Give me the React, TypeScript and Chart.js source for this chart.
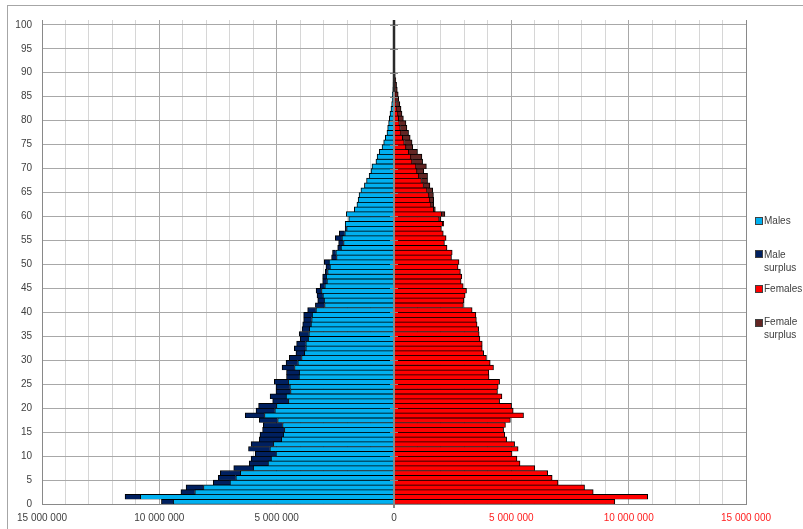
import React, { useEffect, useRef } from 'react';
import { Chart, registerables } from 'chart.js';

Chart.register(...registerables);

// Population by single year of age (millions), ages 0..100
const maleTotals = [
  9.91, 11.46, 9.08, 8.86, 7.7, 7.49, 7.4, 6.83, 6.17, 6.09,
  5.91, 6.2, 6.09, 5.74, 5.71, 5.6, 5.57, 5.74, 6.34, 5.88,
  5.77, 5.17, 5.28, 5.03, 5.03, 5.1, 4.58, 4.58, 4.77, 4.6,
  4.46, 4.18, 4.25, 4.15, 4.0, 4.04, 3.92, 3.89, 3.85, 3.85,
  3.68, 3.35, 3.25, 3.28, 3.32, 3.15, 3.04, 3.04, 2.93, 2.9,
  2.97, 2.66, 2.62, 2.4, 2.36, 2.5, 2.33, 2.08, 2.08, 1.93,
  2.03, 1.69, 1.58, 1.53, 1.49, 1.41, 1.26, 1.17, 1.06, 0.98,
  0.94, 0.77, 0.72, 0.63, 0.51, 0.44, 0.37, 0.3, 0.27, 0.23,
  0.2, 0.17, 0.13, 0.1, 0.08, 0.07, 0.05, 0.04, 0.03, 0.02,
  0.015, 0.012, 0.01, 0.008, 0.006, 0.005, 0.004, 0.003, 0.002, 0.002, 0.001,
];

const femaleTotals = [
  9.41, 10.81, 8.49, 8.12, 6.99, 6.74, 6.55, 6.0, 5.37, 5.24,
  5.03, 5.29, 5.14, 4.8, 4.72, 4.67, 4.75, 4.96, 5.52, 5.08,
  5.01, 4.5, 4.6, 4.41, 4.44, 4.5, 4.05, 4.04, 4.24, 4.1,
  3.94, 3.82, 3.76, 3.76, 3.66, 3.63, 3.61, 3.54, 3.51, 3.49,
  3.33, 2.96, 2.98, 3.03, 3.09, 2.95, 2.86, 2.89, 2.83, 2.73,
  2.77, 2.45, 2.48, 2.26, 2.15, 2.22, 2.1, 2.02, 2.12, 2.0,
  2.17, 1.76, 1.69, 1.69, 1.68, 1.65, 1.53, 1.43, 1.43, 1.27,
  1.38, 1.22, 1.19, 1.0, 0.8, 0.77, 0.69, 0.62, 0.55, 0.51,
  0.4, 0.34, 0.3, 0.25, 0.2, 0.18, 0.14, 0.11, 0.08, 0.05,
  0.035, 0.028, 0.022, 0.017, 0.013, 0.01, 0.008, 0.006, 0.004, 0.003, 0.002,
];

const ageTickLabels = [0, 5, 10, 15, 20, 25, 30, 35, 40, 45, 50, 55, 60, 65, 70, 75, 80, 85, 90, 95, 100];

const UNIT = 1000000;
const seriesNames = ['Males', 'Male surplus', 'Females', 'Female surplus'];
const seriesColors = ['#00B0F0', '#002060', '#FF0000', '#632523'];
const valueTickStep = 1000000;
const valueLabelStep = 5000000;

const fmt = (v: number) =>
  Math.round(Math.abs(v)).toString().replace(/\B(?=(\d{3})+(?!\d))/g, ' ');

const zeroAxisPlugin = {
  id: 'zeroAxis',
  afterDatasetsDraw(chart: any) {
    const { ctx, chartArea, scales } = chart;
    const x = scales.x;
    const y = scales.y;
    const px = Math.round(x.getPixelForValue(0));
    ctx.save();
    ctx.strokeStyle = '#868686';
    ctx.lineWidth = 2;
    ctx.beginPath();
    ctx.moveTo(px, chartArea.top);
    ctx.lineTo(px, chartArea.bottom + 4);
    ctx.stroke();
    // thin bars of the oldest ages merge into a dark line along the axis
    const darkEnd = y.getPixelForValue(86);
    ctx.strokeStyle = '#2a2a2a';
    ctx.lineWidth = 2.5;
    ctx.beginPath();
    ctx.moveTo(px, chartArea.top);
    ctx.lineTo(px, darkEnd);
    ctx.stroke();
    ctx.strokeStyle = '#868686';
    ctx.lineWidth = 1;
    ageTickLabels.forEach((v) => {
      const py = Math.round(y.getPixelForValue(v)) + 0.5;
      ctx.beginPath();
      ctx.moveTo(px - 4, py);
      ctx.lineTo(px + 4, py);
      ctx.stroke();
    });
    ctx.restore();
  },
};

export default function App() {
  const canvasRef = useRef<HTMLCanvasElement | null>(null);

  useEffect(() => {
    const canvas = canvasRef.current;
    if (!canvas) return;

    const maleCore = maleTotals.map((m, i) => ({ x: -Math.min(m, femaleTotals[i]) * UNIT, y: i + 0.5 }));
    const maleSurplus = maleTotals.map((m, i) => ({ x: -Math.max(0, m - femaleTotals[i]) * UNIT, y: i + 0.5 }));
    const femaleCore = femaleTotals.map((f, i) => ({ x: Math.min(f, maleTotals[i]) * UNIT, y: i + 0.5 }));
    const femaleSurplus = femaleTotals.map((f, i) => ({ x: Math.max(0, f - maleTotals[i]) * UNIT, y: i + 0.5 }));

    const mk = (label: string, data: any[], color: string) => ({
      label,
      data,
      backgroundColor: color,
      borderColor: '#000000',
      borderWidth: { top: 1, bottom: 0.5, left: 1, right: 1 },
      borderSkipped: 'start',
      barPercentage: 1,
      categoryPercentage: 1,
      stack: 's',
    });

    Chart.defaults.font.family = '"Liberation Sans", Arial, sans-serif';
    Chart.defaults.font.size = 10;

    const chart = new Chart(canvas, {
      type: 'bar',
      data: {
        datasets: [
          mk(seriesNames[0], maleCore, seriesColors[0]),
          mk(seriesNames[1], maleSurplus, seriesColors[1]),
          mk(seriesNames[2], femaleCore, seriesColors[2]),
          mk(seriesNames[3], femaleSurplus, seriesColors[3]),
        ] as any,
      },
      options: {
        indexAxis: 'y',
        animation: false,
        responsive: false,
        devicePixelRatio: 1,
        layout: { padding: { top: 20, right: 57, bottom: 0, left: 0 } },
        plugins: {
          legend: { display: false },
          tooltip: { enabled: false },
          title: { display: false },
        },
        scales: {
          x: {
            type: 'linear',
            stacked: true,
            min: -15000000,
            max: 15000000,
            offset: false,
            afterFit: (s: any) => {
              s.height = 25;
            },
            ticks: {
              stepSize: valueTickStep,
              autoSkip: false,
              maxRotation: 0,
              padding: 8,
              font: { size: 10 },
              color: (c: any) => (c.tick && c.tick.value > 0 ? '#FF2020' : '#404040'),
              callback: (v: any) => {
                const n = Math.round(Number(v) / valueTickStep);
                return n % (valueLabelStep / valueTickStep) === 0 ? fmt(Number(v)) : '';
              },
            },
            grid: {
              drawTicks: false,
              offset: false,
              lineWidth: 1,
              color: (c: any) => {
                const v = c.tick ? c.tick.value : 0;
                const n = Math.round(v / valueTickStep);
                if (Math.abs(n) === 15) return '#898989';
                if (n % 5 === 0) return '#a8a8a8';
                return '#d6d6d6';
              },
            },
            border: { display: true, color: '#898989', width: 1 },
          },
          y: {
            type: 'linear',
            stacked: true,
            min: 0,
            max: 101,
            offset: false,
            afterFit: (s: any) => {
              s.width = 42;
            },
            afterBuildTicks: (s: any) => {
              s.ticks = ageTickLabels.map((v) => ({ value: v }));
            },
            ticks: {
              autoSkip: false,
              padding: 10,
              color: '#404040',
              font: { size: 10 },
              callback: (v: any) => String(v),
            },
            grid: {
              drawTicks: false,
              offset: false,
              color: '#a8a8a8',
              lineWidth: 1,
            },
            border: { display: true, color: '#898989', width: 1 },
          },
        },
      } as any,
      plugins: [zeroAxisPlugin],
    });

    return () => chart.destroy();
  }, []);

  const legendText: React.CSSProperties = {
    position: 'absolute',
    left: 764,
    font: '10px "Liberation Sans", Arial, sans-serif',
    color: '#404040',
    lineHeight: '13px',
    whiteSpace: 'nowrap',
  };
  const swatch = (top: number, color: string): React.CSSProperties => ({
    position: 'absolute',
    left: 755,
    top,
    width: 6,
    height: 6,
    background: color,
    border: '1px solid #404040',
  });

  return (
    <div>
      <div
        style={{
          position: 'absolute',
          left: 7,
          top: 5,
          width: 796,
          height: 524,
          boxSizing: 'border-box',
          borderLeft: '1px solid #a6a6a6',
          borderTop: '1px solid #a6a6a6',
        }}
      />
      <canvas
        ref={canvasRef}
        width={803}
        height={529}
        style={{ position: 'absolute', left: 0, top: 0, width: 803, height: 529 }}
      />
      <div style={swatch(217, seriesColors[0])} />
      <div style={{ ...legendText, top: 214 }}>{seriesNames[0]}</div>
      <div style={swatch(250, seriesColors[1])} />
      <div style={{ ...legendText, top: 248 }}>Male<br />surplus</div>
      <div style={swatch(285, seriesColors[2])} />
      <div style={{ ...legendText, top: 282 }}>{seriesNames[2]}</div>
      <div style={swatch(319, seriesColors[3])} />
      <div style={{ ...legendText, top: 315 }}>Female<br />surplus</div>
    </div>
  );
}
